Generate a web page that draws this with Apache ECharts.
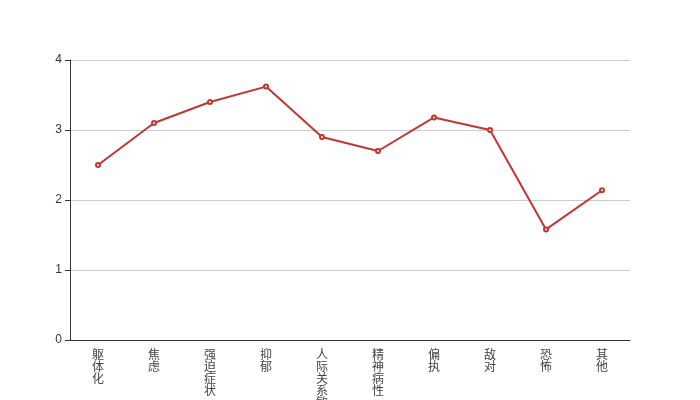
<!DOCTYPE html>
<html><head><meta charset="utf-8">
<script src="https://cdn.jsdelivr.net/npm/echarts@6/dist/echarts.min.js"></script>
<style>html,body{margin:0;padding:0;background:#fff}#c{width:700px;height:400px}</style>
</head><body><div id="c"></div>
<script>
const categories = ['躯体化','焦虑','强迫症状','抑郁','人际关系敏感','精神病性','偏执','敌对','恐怖','其他'];
const values = [2.50, 3.10, 3.40, 3.62, 2.90, 2.70, 3.18, 3.00, 1.58, 2.14];
const chart = echarts.init(document.getElementById('c'));
chart.setOption({
  animation: false,
  grid: {left: 70, right: 70, top: 60, bottom: 60, containLabel: false, outerBoundsMode: 'none'},
  xAxis: {
    type: 'category', data: categories,
    axisLine: {lineStyle: {color: '#333'}},
    axisTick: {lineStyle: {color: '#333'}},
    axisLabel: {interval: 0, color: '#444', fontSize: 12, lineHeight: 12,
      fontFamily: 'Noto Sans CJK SC',
      formatter: v => v.split('').join('\n')}
  },
  yAxis: {
    type: 'value', min: 0, max: 4, interval: 1,
    axisLine: {show: true, lineStyle: {color: '#333'}},
    axisTick: {show: true, lineStyle: {color: '#333'}},
    axisLabel: {color: '#333', fontSize: 12},
    splitLine: {lineStyle: {color: '#ccc'}}
  },
  series: [{
    type: 'line', data: values,
    symbol: 'emptyCircle', symbolSize: 4,
    lineStyle: {color: '#c23531', width: 2},
    itemStyle: {color: '#c23531'}
  }]
});
</script></body></html>
